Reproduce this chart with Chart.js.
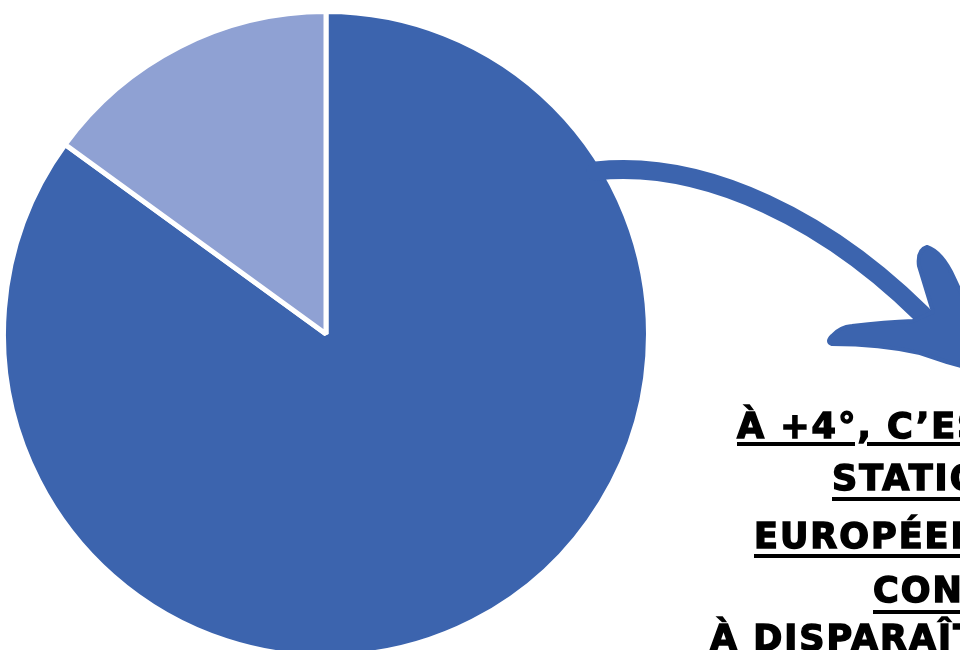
<!DOCTYPE html>
<html lang="fr">
<head>
<meta charset="utf-8">
<script src="https://cdn.jsdelivr.net/npm/chart.js@4.4.0/dist/chart.umd.min.js"></script>
<style>
  html, body { margin: 0; padding: 0; background: #fff; overflow: hidden; }
  body { width: 960px; height: 650px; position: relative; }
  #pie { position: absolute; left: 0; top: 0; }
  .ligne {
    position: absolute;
    white-space: nowrap;
    font-family: "DejaVu Sans", Roboto, sans-serif;
    font-weight: 700;
    font-size: 35px;
    line-height: 35px;
    letter-spacing: 2px;
    color: #000;
    -webkit-text-stroke: 1.5px #000;
    text-decoration: underline;
    text-decoration-thickness: 4px;
  }
</style>
</head>
<body>
<canvas id="pie" width="960" height="660"></canvas>
<div id="texte"></div>
<script>
// données
const labels = ['Stations condamnées', 'Autres stations'];
const values = [85, 15];
const colors = ['#3c64ae', '#8fa1d3'];

// lignes du texte (coupées par le bord droit dans l'original)
const lignes = ['À +4°, C’EST 98% DES', 'STATIONS DE SKI', 'EUROPÉENNES QUI SONT', 'CONDAMNÉES', 'À DISPARAÎTRE'];
const lignesX = [737, 832, 754, 873, 710];
const lignesBase = [439, 491, 549, 603, 651];
const soulignes = [4, 7, 6, 8, 6];

const texte = document.getElementById('texte');
lignes.forEach(function(l, i) {
  const d = document.createElement('div');
  d.className = 'ligne';
  d.textContent = l;
  d.style.left = lignesX[i] + 'px';
  d.style.top = (lignesBase[i] - 30) + 'px';
  d.style.textUnderlineOffset = soulignes[i] + 'px';
  texte.appendChild(d);
});

// flèche dessinée à la main, par-dessus le camembert
const flechePlugin = {
  id: 'fleche',
  afterDraw: function(chart) {
    const c = chart.ctx;
    c.save();
    c.fillStyle = colors[0];
    c.strokeStyle = colors[0];
    c.lineCap = 'round';
    c.lineJoin = 'round';
    // tige
    c.lineWidth = 19;
    c.beginPath();
    c.moveTo(596, 171);
    c.bezierCurveTo(700, 160, 830, 215, 942, 335);
    c.stroke();
    // pointe
    c.lineWidth = 4;
    c.beginPath();
    c.moveTo(933, 312);
    c.lineTo(919, 266);
    c.quadraticCurveTo(917, 250, 927, 247);
    c.quadraticCurveTo(942, 252, 954, 278);
    c.lineTo(964, 300);
    c.lineTo(976, 345);
    c.lineTo(968, 368);
    c.lineTo(947, 362);
    c.lineTo(920, 353);
    c.quadraticCurveTo(880, 344, 832, 344);
    c.quadraticCurveTo(826, 342, 832, 336);
    c.quadraticCurveTo(840, 327, 852, 326);
    c.quadraticCurveTo(885, 322, 913, 321);
    c.closePath();
    c.fill();
    c.stroke();
    c.restore();
  }
};

new Chart(document.getElementById('pie').getContext('2d'), {
  type: 'pie',
  data: {
    labels: labels,
    datasets: [{
      data: values,
      backgroundColor: colors,
      borderColor: '#ffffff',
      borderWidth: 5
    }]
  },
  options: {
    responsive: false,
    animation: false,
    layout: { padding: { left: 1, top: 9, right: 309, bottom: 1 } },
    plugins: {
      legend: { display: false },
      tooltip: { enabled: false }
    }
  },
  plugins: [flechePlugin]
});
</script>
</body>
</html>
